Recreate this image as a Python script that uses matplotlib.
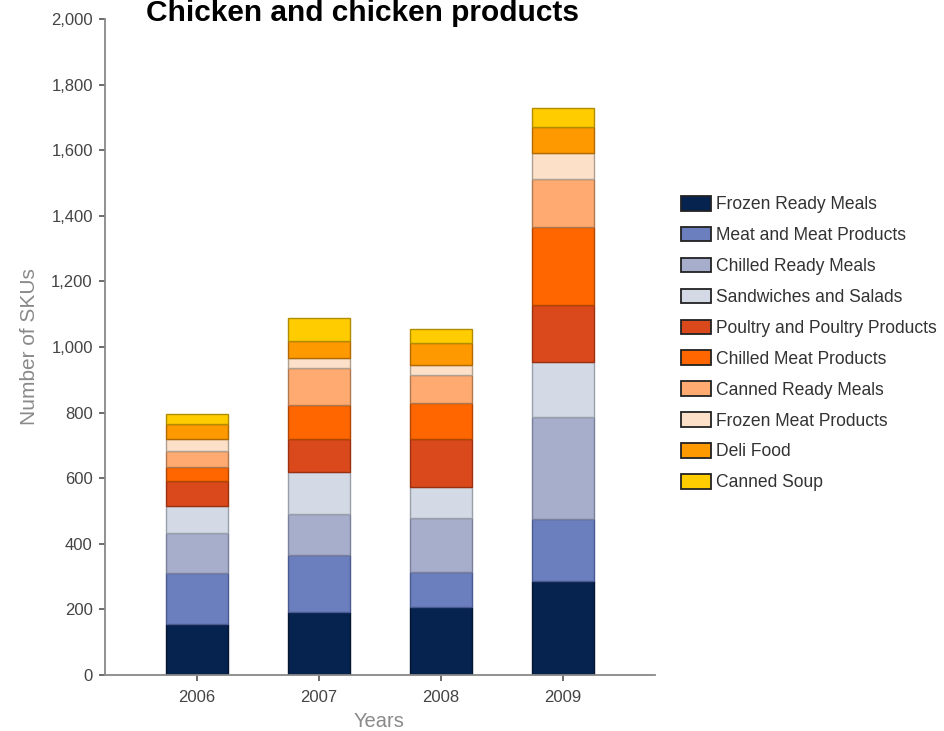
import matplotlib
matplotlib.use("Agg")
import matplotlib.pyplot as plt
import numpy as np

years = ["2006", "2007", "2008", "2009"]
categories = [
    "Frozen Ready Meals", "Meat and Meat Products", "Chilled Ready Meals",
    "Sandwiches and Salads", "Poultry and Poultry Products", "Chilled Meat Products",
    "Canned Ready Meals", "Frozen Meat Products", "Deli Food", "Canned Soup",
]
frozen_ready = [155, 193, 206, 286]
meat = [155, 173, 107, 190]
chilled_ready = [122, 124, 165, 310]
sandwiches = [83, 130, 96, 169]
poultry = [76, 98, 146, 173]
chilled_meat = [44, 105, 110, 239]
canned_ready = [49, 114, 85, 146]
frozen_meat = [37, 28, 30, 77]
deli = [44, 54, 66, 82]
canned_soup = [31, 68, 43, 57]
series = [frozen_ready, meat, chilled_ready, sandwiches, poultry,
          chilled_meat, canned_ready, frozen_meat, deli, canned_soup]

colors = ["#06224f", "#6b7fbf", "#a6aecb", "#d3dae6", "#d9491c",
          "#ff6600", "#ffaa70", "#fce0c8", "#ff9900", "#ffcc00"]
edges = ["#031530", "#4a5a90", "#7a8099", "#9aa0aa", "#9a3010",
         "#b04500", "#b07850", "#b0a090", "#b06a00", "#b08c00"]

plt.rcParams['font.family'] = ['Liberation Sans', 'DejaVu Sans']

fig = plt.figure(figsize=(9.45, 7.31), dpi=100)
ax = fig.add_axes([105 / 945, 56 / 731, 550 / 945, 656 / 731])

x = np.arange(len(years))
bottom = np.zeros(len(years))
handles = []
for vals, c, ec, name in zip(series, colors, edges, categories):
    h = ax.bar(x, vals, 0.51, bottom=bottom, color=c, edgecolor=ec,
               linewidth=1.0, label=name)
    handles.append(h)
    bottom += np.array(vals)

ax.set_xlim(-0.754, 3.754)
ax.set_ylim(0, 2000)
ax.set_yticks(np.arange(0, 2001, 200))
ax.set_yticklabels([f"{v:,}" for v in range(0, 2001, 200)])
ax.set_xticks(x)
ax.set_xticklabels(years)
ax.tick_params(colors="#555555", labelcolor="#444444", labelsize=12, length=4.5,
               width=1.2)
ax.tick_params(axis="y", pad=4.3)
ax.tick_params(axis="x", pad=6.5)
for s in ["top", "right"]:
    ax.spines[s].set_visible(False)
for s in ["left", "bottom"]:
    ax.spines[s].set_color("#888888")
    ax.spines[s].set_linewidth(1.3)

ax.set_ylabel("Number of SKUs", fontsize=15, color="#8a8a8a")
ax.yaxis.set_label_coords(-0.12, 0.5)
ax.set_xlabel("Years", fontsize=14.5, color="#8a8a8a")
ax.xaxis.set_label_coords((379 - 105) / 550, -0.056)

fig.text(363 / 945, 1 - 21 / 731, "Chicken and chicken products",
         ha="center", va="baseline", fontsize=21.5, fontweight="bold")

fig.legend(handles=handles, labels=categories, loc="upper left",
           bbox_to_anchor=(681 / 945, 1 - 196 / 731), frameon=False,
           borderaxespad=0, borderpad=0,
           fontsize=12.65, labelspacing=0.77, handlelength=1.7, handleheight=0.9,
           handletextpad=0.28, labelcolor="#333333")
for p in fig.legends[0].get_patches():
    p.set_edgecolor("#222222")
    p.set_linewidth(1.3)

fig.savefig("out.png", dpi=100)
